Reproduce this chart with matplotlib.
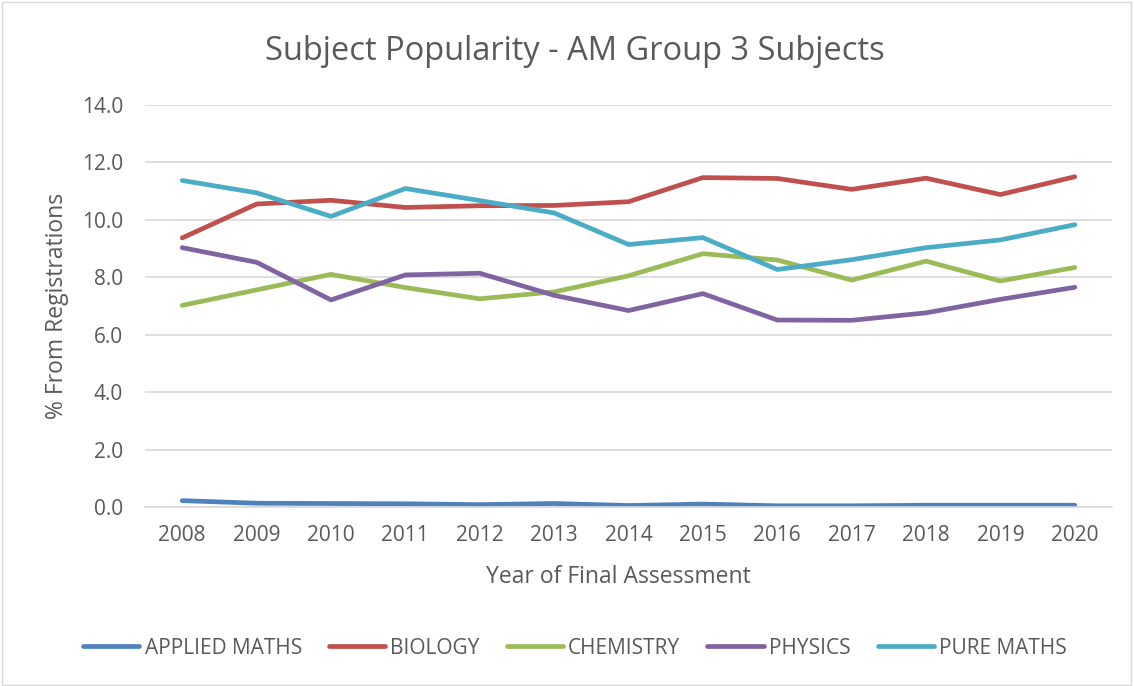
import matplotlib.pyplot as plt
from matplotlib.patches import Rectangle

plt.rcParams['font.family'] = ['Open Sans', 'DejaVu Sans']

years = [2008, 2009, 2010, 2011, 2012, 2013, 2014, 2015, 2016, 2017, 2018, 2019, 2020]
applied_maths = [0.22, 0.13, 0.12, 0.11, 0.08, 0.12, 0.05, 0.10, 0.04, 0.04, 0.06, 0.06, 0.06]
biology = [9.37, 10.55, 10.68, 10.43, 10.49, 10.50, 10.63, 11.47, 11.44, 11.06, 11.45, 10.88, 11.50]
chemistry = [7.02, 7.56, 8.10, 7.64, 7.25, 7.49, 8.05, 8.82, 8.60, 7.90, 8.56, 7.87, 8.34]
physics = [9.03, 8.52, 7.21, 8.08, 8.14, 7.37, 6.84, 7.43, 6.51, 6.50, 6.76, 7.23, 7.65]
pure_maths = [11.37, 10.94, 10.12, 11.09, 10.67, 10.24, 9.14, 9.38, 8.27, 8.61, 9.03, 9.30, 9.83]

series = [
    ('APPLIED MATHS', applied_maths, '#4F81BD'),
    ('BIOLOGY', biology, '#C0504D'),
    ('CHEMISTRY', chemistry, '#9BBB59'),
    ('PHYSICS', physics, '#8064A2'),
    ('PURE MATHS', pure_maths, '#4BACC6'),
]

text_col = '#595959'

fig = plt.figure(figsize=(11.34, 6.86), dpi=100)
ax = fig.add_axes([0.1279, 0.261, 0.8527, 0.586])

for name, vals, col in series:
    ax.plot(years, vals, color=col, linewidth=3.4, label=name, solid_capstyle='round')

ax.set_xlim(2007.5, 2020.5)
ax.set_ylim(0, 14)
ax.set_yticks([0, 2, 4, 6, 8, 10, 12, 14])
ax.set_yticklabels([f'{v:.1f}' for v in ax.get_yticks()])
ax.set_xticks(years)
ax.grid(axis='y', color='#d9d9d9', linewidth=1.2)
ax.set_axisbelow(True)
for s in ['top', 'right', 'left']:
    ax.spines[s].set_visible(False)
ax.spines['bottom'].set_color('#d9d9d9')
ax.spines['bottom'].set_linewidth(1.2)
ax.tick_params(length=0, labelsize=15, colors=text_col)
ax.tick_params(axis='x', pad=13)
ax.tick_params(axis='y', pad=16)

fig.text(0.507, 0.925, 'Subject Popularity - AM Group 3 Subjects', fontsize=23.5,
         color=text_col, ha='center', va='center')
ax.set_xlabel('Year of Final Assessment', fontsize=16.5, color=text_col, va='center')
ax.xaxis.set_label_coords(0.49, -0.174)
ax.set_ylabel('% From Registrations', fontsize=16.5, color=text_col, va='center')
ax.yaxis.set_label_coords(-0.091, 0.5)

fig.legend(loc='center', bbox_to_anchor=(0.507, 0.055), ncol=5, frameon=False,
           fontsize=15, labelcolor=text_col, handlelength=2.7, columnspacing=1.3,
           handletextpad=0.25)

fig.patches.append(Rectangle((0.002, 0.002), 0.995, 0.995, transform=fig.transFigure,
                             fill=False, edgecolor='#d9d9d9', linewidth=1))

fig.savefig('out.png', dpi=100)
